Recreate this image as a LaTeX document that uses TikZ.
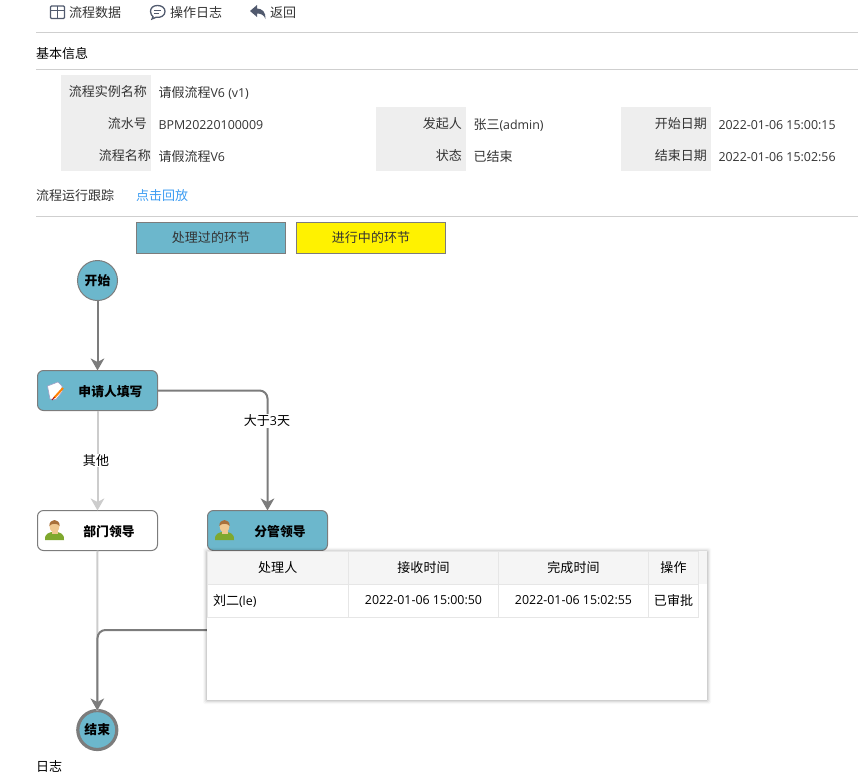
\documentclass[tikz,border=0pt]{standalone}
\usepackage{fontspec}
\setmainfont{Open Sans}
\newfontfamily\cjk[Scale=1.05]{Noto Sans CJK SC}
\usetikzlibrary{arrows.meta}
\definecolor{done}{HTML}{6CB7CC}
\definecolor{edge}{HTML}{7C7C7C}
\definecolor{lightedge}{HTML}{CCCCCC}
\definecolor{rulec}{HTML}{CFCFCF}
\definecolor{labelbg}{HTML}{EEEEEE}
\definecolor{cellline}{HTML}{E6E6E6}
\definecolor{headbg}{HTML}{F5F5F5}
\definecolor{ink}{HTML}{333333}
\definecolor{linkc}{HTML}{3C9CF2}
\definecolor{iconc}{HTML}{515A6E}
\definecolor{bodyc}{HTML}{7FA82E}
\definecolor{facec}{HTML}{F0C890}
\definecolor{hairc}{HTML}{A8703A}
\newcommand{\zh}[1]{{\cjk #1}}
\newcommand{\zhl}[1]{\raisebox{-.8pt}{\cjk #1}}
\newcommand{\personicon}[2]{%
  \fill[bodyc] (#1-9.5,#2+10) .. controls (#1-10,#2+3) and (#1-5,#2+3) .. (#1-3,#2+2) -- (#1+3,#2+2) .. controls (#1+5,#2+3) and (#1+10,#2+3) .. (#1+9.5,#2+10) -- cycle;
  \fill[facec] (#1-3,#2-2) rectangle (#1+3,#2+4);
  \fill[facec] (#1,#2-3.5) ellipse [x radius=4.8, y radius=6.2];
  \fill[hairc] (#1-5.2,#2-4) .. controls (#1-5.2,#2-12) and (#1+5.2,#2-12) .. (#1+5.2,#2-4) .. controls (#1+3,#2-7) and (#1-3,#2-7) .. (#1-5.2,#2-4) -- cycle;
}
\tikzset{
  x=1pt,y=-1pt,
  every node/.style={inner sep=0pt,outer sep=0pt,text=ink,font=\fontsize{12.4}{14}\selectfont},
  txt/.style={anchor=west,xshift=-.5pt,yshift=-.8pt},
  rtxt/.style={anchor=east,yshift=-.8pt},
  ruleline/.style={rulec,line width=1pt},
  graybox/.style={fill=labelbg},
  legendbox/.style={draw=edge,line width=1pt,minimum width=149pt,minimum height=31pt},
  startev/.style={circle,draw=edge,line width=1pt,fill=done,minimum size=40pt,font=\fontsize{12.2}{14}\selectfont\bfseries,text=black},
  endev/.style={circle,draw=edge,line width=3.2pt,fill=done,minimum size=39pt,font=\fontsize{12.2}{14}\selectfont\bfseries,text=black},
  task/.style={draw=edge,line width=1pt,rounded corners=6pt,minimum width=120pt,minimum height=40pt},
  tasktext/.style={text=black,font=\fontsize{12.2}{14}\selectfont\bfseries},
  flow/.style={edge,line width=2pt,-{Stealth[length=12pt,width=13.5pt,inset=3.5pt]}},
  lightflow/.style={lightedge,line width=2pt,-{Stealth[length=12pt,width=13.5pt,inset=3.5pt]}},
  flowlabel/.style={fill=white,inner sep=1pt,text=black},
  cell/.style={draw=cellline,line width=1pt,minimum height=33pt,text=black},
}
\begin{document}
\begin{tikzpicture}
\useasboundingbox (0,0) rectangle (858,777);
% toolbar
\draw[iconc,line width=1.3pt,rounded corners=1pt] (50.5,6) rectangle (64.5,18.5);
\draw[iconc,line width=1.3pt] (50.5,10.5) -- (64.5,10.5) (57.5,6) -- (57.5,18.5);
\node[txt] (t1) at (69.5,12) {\zh{流程数据}};
\draw[iconc,line width=1.3pt] (157.5,5.5) .. controls (153,5.5) and (150.5,8) .. (150.5,11.5) .. controls (150.5,14) and (152,16) .. (153,16.5) -- (152,19) -- (156,17.3) .. controls (161,18) and (165,15.5) .. (165,11.5) .. controls (165,8) and (162,5.5) .. (157.5,5.5) -- cycle;
\draw[iconc,line width=1pt] (154,10) -- (161,10) (154,13) -- (159,13);
\node[txt] (t2) at (170.5,12) {\zh{操作日志}};
\fill[iconc] (250,11) -- (257,5) -- (257,8.5) .. controls (262,8.5) and (266,12) .. (265.5,19) .. controls (264,15) and (261,13.5) .. (257,13.5) -- (257,17) -- cycle;
\node[txt] (t3) at (270.5,12) {\zh{返回}};
\draw[ruleline] (36,32.5) -- (858,32.5);
\node[txt,text=black] (t4) at (36.5,53) {\zh{基本信息}};
\draw[ruleline] (36,69.5) -- (858,69.5);
% info table
\fill[graybox] (61,75) rectangle (151,171);
\fill[graybox] (376,107) rectangle (466,171);
\fill[graybox] (621,107) rectangle (711,171);
\node[rtxt] (a1) at (147,91) {\zh{流程实例名称}};
\node[txt] (a2) at (159,92) {\zh{请假流程}V6 (v1)};
\node[rtxt] (b1) at (147,123) {\zh{流水号}};
\node[txt] (b2) at (159,124) {BPM20220100009};
\node[rtxt] (b3) at (462,123) {\zh{发起人}};
\node[txt] (b4) at (474,124) {\zh{张三}(admin)};
\node[rtxt] (b5) at (707,123) {\zh{开始日期}};
\node[txt] (b6) at (719,124) {2022-01-06 15:00:15};
\node[rtxt] (c1) at (151,155) {\zh{流程名称}};
\node[txt] (c2) at (159,156) {\zh{请假流程}V6};
\node[rtxt] (c3) at (462,155) {\zh{状态}};
\node[txt] (c4) at (474,156) {\zh{已结束}};
\node[rtxt] (c5) at (707,155) {\zh{结束日期}};
\node[txt] (c6) at (719,156) {2022-01-06 15:02:56};
\node[txt] (t5) at (36.5,195) {\zh{流程运行跟踪}};
\node[txt,text=linkc] (t6) at (136.5,195) {\zh{点击回放}};
\draw[ruleline] (36,216.5) -- (858,216.5);
% legend
\node[legendbox,fill=done] (l1) at (211,238) {\zhl{处理过的环节}};
\node[legendbox,fill=yellow] (l2) at (371,238) {\zhl{进行中的环节}};
% nodes
\node[startev] (start) at (97.5,280.5) {\zh{开始}};
\node[task,fill=done] (apply) at (97.5,390.5) {};
\node[task,fill=white] (dept) at (97.5,530.5) {};
\node[task,fill=done] (lead) at (267.5,530.5) {};
\node[endev] (finish) at (97.3,730) {\zh{结束}};
\node[tasktext] (n1) at (110.5,391.5) {\zh{申请人填写}};
\node[tasktext] (n2) at (109,531.5) {\zh{部门领导}};
\node[tasktext] (n3) at (280,531.5) {\zh{分管领导}};
% icons
\fill[white,draw=blue!25!gray!60,line width=.6pt] (47.5,386) -- (58,382) -- (62,386) -- (62,392) -- (56,399.5) -- (50,399) -- cycle;
\draw[orange,line width=2pt] (54,398) -- (63,388);
\draw[red!70!black,line width=.8pt] (52,400) -- (54.5,397);
\personicon{54.5}{530}
\personicon{224.5}{530}
% connectors
\draw[flow] (start.south) -- (apply.north);
\draw[lightflow] (apply.south) -- (dept.north);
\draw[lightedge,line width=2pt] (dept.south) -- (finish.north);
\draw[flow,rounded corners=8pt] (apply.east) -| (lead.north);
\draw[flow,rounded corners=8pt] (lead.south) |- (97.5,630) -- (finish.north);
\node[flowlabel] (e1) at (96,460.5) {\zh{其他}};
\node[flowlabel] (e2) at (267,421) {\zh{大于}3\zh{天}};
% popup
\foreach \s/\o in {4/.025,3/.04,2/.06,1/.08}{
  \fill[black,opacity=\o,rounded corners=1.5pt] (207-\s,551-\s+.5) rectangle (707+\s,700+\s);
}
\node[fill=white,anchor=north west,minimum width=499.5pt,minimum height=149pt] (popup) at (207.25,551.25) {};
\fill[headbg] (207.25,551.25) rectangle (706.5,584);
\node[cell,fill=headbg,minimum width=141.5pt] (h1) at (277.75,567.5) {\zhl{处理人}};
\node[cell,fill=headbg,minimum width=150pt] (h2) at (423.5,567.5) {\zhl{接收时间}};
\node[cell,fill=headbg,minimum width=150pt] (h3) at (573.5,567.5) {\zhl{完成时间}};
\node[cell,fill=headbg,minimum width=50pt] (h4) at (673.5,567.5) {\zhl{操作}};
\node[cell,minimum width=141.5pt] (r1) at (277.75,600.5) {};
\node[text=black,anchor=west] (r1t) at (213,600.5) {\zh{刘二}(le)};
\node[cell,minimum width=150pt] (r2) at (423.5,600.5) {2022-01-06 15:00:50};
\node[cell,minimum width=150pt] (r3) at (573.5,600.5) {2022-01-06 15:02:55};
\node[cell,minimum width=50pt] (r4) at (673.5,600.5) {\zh{已审批}};
\node[txt,text=black] (t7) at (36.5,766) {\zh{日志}};
\end{tikzpicture}
\end{document}
